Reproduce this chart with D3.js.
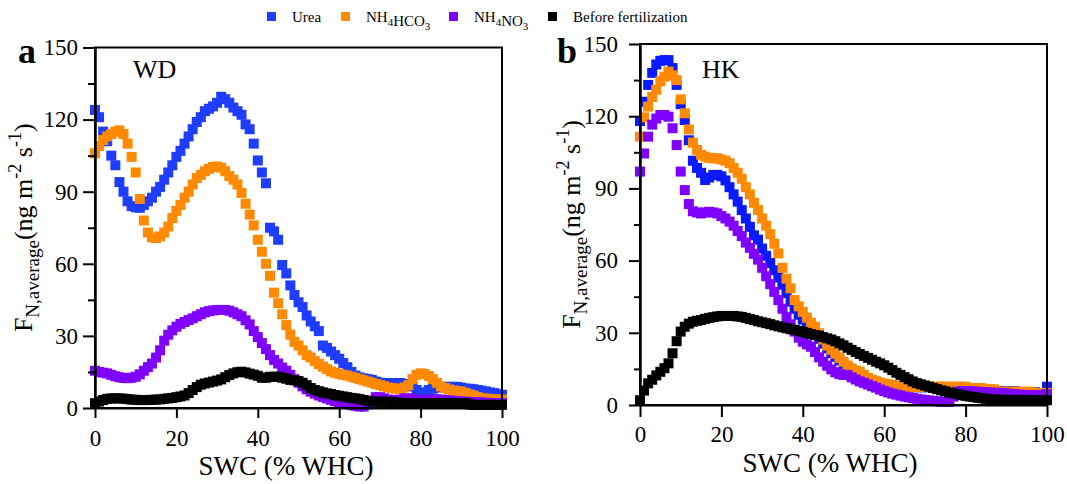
<!DOCTYPE html>
<html>
<head>
<meta charset="utf-8">
<script src="https://cdn.jsdelivr.net/npm/d3@7"></script>
<style>
  body { margin: 0; background: #fff; }
  svg text { font-family: "Liberation Serif", "Times New Roman", serif; fill: #000; }
</style>
</head>
<body>
<svg width="1067" height="484"></svg>
<script>
// SWC grid (% WHC), one point per unit
const swc = d3.range(0, 101);

// panel a, WD
const wdUrea = [124,121,115,111,105,101,94,90,86,84,
  83.5,83.3,84.5,86,87.5,90,92,95,98,101,
  104.5,107,110,113,116,119,121,123.5,124.5,125.5,
  127,129.5,128.5,127,125,123.5,122,118,116,110,
  103,98,93.5,75,73.5,70,59.5,56,51,47,
  44,42,38.5,36,34,32,26,25,23.5,22,
  20.5,18.7,17,15,13.5,12.7,12.3,12,11.7,11,
  10.5,10.4,10.4,10.4,10.4,10.4,10,9.6,9,7.5,
  6.2,6.5,7.5,8,8.5,8.8,8.8,8.8,8.8,8.8,
  8.5,8.1,8,7.8,7.5,7.2,6.9,6.5,6.2,5.8,5.5];
const wdBicarb = [106,109,111.5,113,114,115,115.5,114,110,104.5,
  98,87,78,73,71,70.7,71.4,73,75.5,79,
  82,84.5,87.5,90,93,95.7,97,98.5,99.5,100.3,
  100.5,100,98.5,96.5,95,93,89.5,85,80.5,76,
  70,65,60,55,48,43.6,39,34.5,30.5,27.5,
  26,24,22,21,19.5,18.3,17.2,16.2,15.2,14.7,
  14.2,13.8,13.5,13,12.5,12,11.5,11,10.5,10,
  9.5,9,8.5,8.3,8,8,8.5,9.5,12,13.8,
  14.4,14.2,13.3,12,10.5,9,8.3,7.7,7.3,7,
  6.9,6.3,5.7,5.2,4.5,4,3.9,3.8,3.6,3.5,3.5];
const wdNitrate = [15.5,15,14.7,14.4,13.8,13.2,12.8,12.5,12.4,12.6,
  13,14,15.5,17,18.5,21,24,28,30.5,32.3,
  33.8,35,35.8,36.6,37.3,38.2,39,39.8,40.3,40.6,
  40.8,40.8,40.8,40.5,39.8,39,38.2,36.5,34.8,32,
  29.5,27,24.5,22,20,18.5,16.8,15.5,13.8,12,
  10.5,9,7.8,6.8,6,5.2,4.6,4,3.4,2.8,
  2.3,2,1.6,1.2,0.9,0.6,0.6,1.5,3,4.5,
  4.5,4,3.5,3.3,3.3,3.5,4,4,3.8,3.5,
  3.2,3.2,3.3,3.5,3.6,3.5,3.3,3.2,3,2.8,
  2.7,2.6,2.5,2.5,2.4,2.3,2.2,2.1,2,2,2];
const wdBefore = [2,2.7,3.3,3.8,4,4,4,3.9,3.7,3.5,
  3.4,3.3,3.3,3.3,3.4,3.5,3.6,3.8,4,4.2,
  4.5,4.8,5.2,6.2,7.5,8.7,9.7,10.2,10.6,11,
  11.4,11.9,12.8,13.7,14.4,14.9,15.1,14.8,14.3,13.9,
  13.4,12.6,12.6,13,13,13,12.6,12.2,11.7,11.5,
  11.2,10.5,9.5,8.3,7.5,7,6.5,6.1,5.8,5.4,
  5.1,4.8,4.5,4.2,4,3.7,3.3,3,2.7,2.6,
  2.6,2.6,2.6,2.5,2.3,2.1,2,2,2,2,
  2,2,2,2,2,2,2,2,2,2,
  2,2,1.5,1.3,1.3,1.3,1.3,1.3,1.3,1.3,1.3];

// panel b, HK
const hkUrea = [118,126,133,138,141.5,143,143.3,143.3,140,133,
  125,118.4,110,101.5,98.5,96.5,93.5,94.5,95.6,95.6,
  95,93.3,90.5,87.5,84.5,81,77.5,74,70.5,68.7,
  65,62,59,56,53,50,46.5,43,40,37.5,
  35.5,33.5,31.5,29.5,27.5,25.5,23.5,21.5,20,18.5,
  17,15.5,14.3,13.3,12.3,11.3,10.5,9.9,9.4,9,
  8.6,8.3,8,7.8,7.6,7.4,7.4,7.4,7.4,7.4,
  7.4,7.4,7.4,7.4,7.4,7.4,7,7,7,7,
  7,7,7,6.6,6.3,6,5.7,5.7,5.7,5.7,
  5.7,5.7,5.7,5.3,5.3,5.3,5.3,5.3,5,5,7.6];
const hkBicarb = [111.5,119.5,124,128,131,134.5,136.4,138.5,137,135,
  127,121.2,114.5,109,106,104,103.2,102.7,102.5,102.5,
  102,101.5,100.5,98.5,96.5,94,90.5,87.5,84,81,
  77.5,74.5,71,67,63,57,52.5,48.5,43.6,41,
  38.7,36.3,34.2,32.5,29.8,27.2,24.7,23,21.3,19.6,
  18,16.4,15.2,14.3,13.8,12.5,11.3,10.5,9.9,9.3,
  8.9,8.6,8.3,8,7.6,7.6,7.6,7.6,7.6,7.6,
  7.6,7.6,7.6,7.6,7.6,7.6,7.6,7.6,7.6,7.6,
  7.6,7,7,7,7,6.5,6.5,6.5,5.5,5.5,
  5.5,5.5,5.5,5.5,5.5,5.5,5.5,5,5,5,5];
const hkNitrate = [97,104.5,111.5,116.5,119,120.5,120.5,119.8,115,108,
  97,89.3,83.5,80.5,80,79.6,80,80.3,80,79.6,
  78.5,77.5,76.2,74.5,72.3,70.2,67.5,65.3,62.8,60.4,
  57,53.5,50.2,47,43.6,40,36.5,33.5,30.5,28,
  26.3,25.2,24.2,22,19.8,18,16.3,14.8,13.6,12.8,
  12.5,12.5,11.5,10.6,9.8,9.2,8.5,7.8,7.2,6.4,
  5.8,5.2,4.7,4.3,3.9,3.5,3.2,2.9,2.6,2.3,
  2.1,1.9,1.7,1.5,1.4,1.3,1.3,3.5,5.5,5.8,
  5.8,5.7,5.6,5.5,5.4,5.3,5.2,5.1,5,4.9,
  4.8,4.6,4.5,4.3,4.2,4.1,4,4,4,4.2,4.5];
const hkBefore = [2,6,9,10.5,12.3,13.8,15.3,17.3,21.5,26.5,
  30.5,32.5,33.8,34.6,35,35.3,35.8,36.2,36.5,36.8,
  37,37,37,37,36.8,36.6,36.2,35.7,35.3,34.8,
  34.4,34,33.6,33.1,32.7,32.3,31.9,31.5,31.2,30.8,
  30.4,29.9,29.5,29.1,28.8,28.2,27.7,27.2,26.5,25.6,
  24.8,23.8,22.9,22,21.2,20.4,19.6,18.8,18,17.3,
  16.5,15.5,14.5,13.4,12.5,11.6,10.7,9.8,9.1,8.6,
  8.1,7.6,7.1,6.6,6.1,5.7,5.2,4.9,4.5,4.1,
  3.8,3.5,3.3,3,2.8,2.6,2.4,2.3,2.2,2.2,
  2.1,2.1,2.1,2.1,2.1,2.1,2.1,2,2,2,2];

const xTicks = [0, 20, 40, 60, 80, 100];
const yTicks = [0, 30, 60, 90, 120, 150];
const yMinor = [15, 45, 75, 105, 135];

const legendNames = ["Urea", "NH4HCO3", "NH4NO3", "Before fertilization"];
const colors = ["#1f3dff", "#ff8a00", "#8000ff", "#000000"];

const serif = '"Liberation Serif", "Times New Roman", serif';
const svg = d3.select("svg");

const panels = [
  { letter: "a", site: "WD", series: [wdUrea, wdBicarb, wdNitrate, wdBefore],
    left: 95, right: 502, top: 47.5, bottom: 408, blue: "#1f3dff",
    yTick: 12, yMinorTick: 7, yPad: 5, xTick: 10, xPad: 11.5,
    titleX: 286, titleY: 475, yTitleX: 32, letterX: 18, siteX: 133 },
  { letter: "b", site: "HK", series: [hkUrea, hkBicarb, hkNitrate, hkBefore],
    left: 640, right: 1047, top: 44, bottom: 405, blue: "#0a1aff",
    yTick: 11, yMinorTick: 6, yPad: 11, xTick: 12, xPad: 9,
    titleX: 830, titleY: 472, yTitleX: 580, letterX: 557, siteX: 702 }
];

panels.forEach(p => {
  const x = d3.scaleLinear().domain([0, 100]).range([p.left, p.right]);
  const y = d3.scaleLinear().domain([0, 150]).range([p.bottom, p.top]);
  const g = svg.append("g");

  // markers, drawn in legend order
  const size = 10;
  p.series.forEach((vals, i) => {
    const col = i === 0 ? p.blue : colors[i];
    g.append("g")
      .selectAll("rect")
      .data(swc.map((s, j) => ({ x: s, y: vals[j] })))
      .enter().append("rect")
      .attr("x", d => x(d.x) - size / 2)
      .attr("y", d => y(d.y) - size / 2)
      .attr("width", size)
      .attr("height", size)
      .attr("fill", col);
  });

  // frame
  g.append("rect")
    .attr("x", p.left).attr("y", p.top)
    .attr("width", p.right - p.left).attr("height", p.bottom - p.top)
    .attr("fill", "none").attr("stroke", "#000").attr("stroke-width", 2);

  // axes
  g.append("g")
    .attr("transform", `translate(0,${p.bottom})`)
    .call(d3.axisBottom(x).tickValues(xTicks).tickSize(p.xTick).tickSizeOuter(0).tickPadding(p.xPad));
  g.append("g")
    .attr("transform", `translate(${p.left},0)`)
    .call(d3.axisLeft(y).tickValues(yTicks).tickSize(p.yTick).tickSizeOuter(0).tickPadding(p.yPad));
  g.append("g")
    .attr("transform", `translate(${p.left},0)`)
    .call(d3.axisLeft(y).tickValues(yMinor).tickSize(p.yMinorTick).tickSizeOuter(0).tickFormat(""));

  g.selectAll("g").attr("font-family", serif).attr("font-size", 23);
  g.selectAll(".domain").attr("stroke", "#000").attr("stroke-width", 2);
  g.selectAll(".tick line").attr("stroke", "#000").attr("stroke-width", 2);
  g.selectAll(".tick text").attr("fill", "#000");

  // x title
  g.append("text")
    .attr("x", p.titleX).attr("y", p.titleY)
    .attr("text-anchor", "middle")
    .attr("font-family", serif)
    .style("font-size", "27px")
    .text("SWC (% WHC)");

  // y title
  const cy = (p.top + p.bottom) / 2;
  const yt = g.append("text")
    .attr("transform", `translate(${p.yTitleX},${cy}) rotate(-90)`)
    .attr("text-anchor", "middle")
    .style("font-size", "26px");
  yt.append("tspan").text("F");
  yt.append("tspan").attr("dy", 7).style("font-size", "19px").text("N,average");
  yt.append("tspan").attr("dy", -7).text("(ng m");
  yt.append("tspan").attr("dy", -11).style("font-size", "18px").text("-2");
  yt.append("tspan").attr("dy", 11).text(" s");
  yt.append("tspan").attr("dy", -11).style("font-size", "18px").text("-1");
  yt.append("tspan").attr("dy", 11).text(")");

  // panel letter and site
  g.append("text")
    .attr("x", p.letterX).attr("y", 63)
    .style("font-size", "36px").style("font-weight", "bold")
    .text(p.letter);
  g.append("text")
    .attr("x", p.siteX).attr("y", 78)
    .style("font-size", "26px")
    .text(p.site);
});

// legend
const legendX = [267, 341, 449, 548];
const leg = svg.append("g");
legendNames.forEach((name, i) => {
  leg.append("rect")
    .attr("x", legendX[i]).attr("y", 12)
    .attr("width", 9).attr("height", 9)
    .attr("fill", colors[i]);
  const t = leg.append("text")
    .attr("x", legendX[i] + 25).attr("y", 22)
    .style("font-size", "15px");
  // chemical formulas get subscript digits
  name.split(/(\d)/).forEach((part, k) => {
    if (!part) return;
    if (k % 2 === 1) {
      t.append("tspan").attr("dy", 4).style("font-size", "11px").text(part);
      t.append("tspan").attr("dy", -4).text("");
    } else {
      t.append("tspan").text(part);
    }
  });
});
</script>
</body>
</html>
